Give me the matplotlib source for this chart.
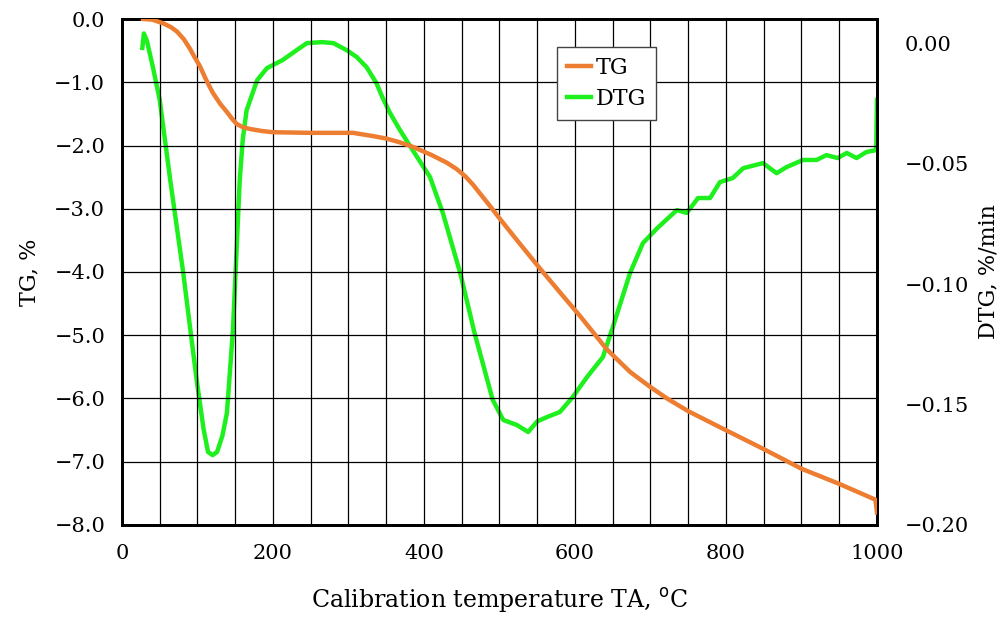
import matplotlib
matplotlib.use("Agg")
import matplotlib.pyplot as plt
from matplotlib.ticker import MultipleLocator, FuncFormatter

# --- Data ---
tg_temp = [28, 40, 55, 65, 73, 82, 90, 96, 103, 111, 120, 130, 139, 146, 152, 160,
           170, 185, 200, 250, 306, 332, 350, 368, 385, 410, 430, 443, 455, 465, 475,
           487, 500, 520, 554, 580, 607, 642, 673, 700, 722, 750, 788, 850, 900, 950,
           998, 1000]
tg_vals = [0.0, -0.01, -0.07, -0.13, -0.2, -0.32, -0.47, -0.6, -0.74, -0.95, -1.16,
           -1.34, -1.47, -1.58, -1.66, -1.71, -1.74, -1.77, -1.79, -1.80, -1.80, -1.85,
           -1.89, -1.95, -2.02, -2.15, -2.27, -2.37, -2.49, -2.62, -2.77, -2.95, -3.15,
           -3.45, -3.95, -4.32, -4.70, -5.22, -5.58, -5.82, -6.0, -6.2, -6.43, -6.8,
           -7.11, -7.35, -7.6, -7.8]

dtg_temp = [27, 29, 33, 41, 50, 64, 81, 99, 108, 114, 120, 126, 133, 139, 147, 152,
            156, 160, 165, 179, 192, 213, 231, 245, 265, 280, 298, 311, 324, 337, 345,
            355, 368, 385, 408, 425, 448, 467, 491, 505, 523, 538, 550, 563, 580, 597,
            616, 637, 650, 673, 690, 709, 735, 748, 763, 779, 792, 809, 823, 849, 867,
            880, 902, 920, 933, 948, 960, 973, 986, 999, 1000]
dtg_vals = [-0.002, 0.004, 0.001, -0.010, -0.0236, -0.057, -0.095, -0.140, -0.160,
            -0.1697, -0.171, -0.1697, -0.163, -0.1535, -0.119, -0.0846, -0.0568, -0.040,
            -0.028, -0.0154, -0.0104, -0.007, -0.003, 0.0, 0.0004, 0.0, -0.003, -0.0058,
            -0.010, -0.0166, -0.0225, -0.029, -0.036, -0.0444, -0.0556, -0.0705,
            -0.0954, -0.1203, -0.148, -0.1564, -0.1585, -0.1614, -0.157, -0.1552,
            -0.1531, -0.1469, -0.1386, -0.1303, -0.118, -0.0954, -0.083, -0.0768,
            -0.0693, -0.0705, -0.0643, -0.0643, -0.0577, -0.056, -0.0519, -0.0498,
            -0.054, -0.0515, -0.0485, -0.0485, -0.0465, -0.0477, -0.0456, -0.0477,
            -0.0452, -0.0444, -0.0236]

plt.rcParams["font.family"] = ["DejaVu Serif"]
plt.rcParams["font.size"] = 15

fig = plt.figure(figsize=(10.08, 6.21), dpi=100)
ax = fig.add_axes([0.121, 0.1546, 0.749, 0.8148])
ax2 = ax.twinx()

l1, = ax.plot(tg_temp, tg_vals, color="#ED7D31", lw=3.2, label="TG", zorder=3)
l2, = ax2.plot(dtg_temp, dtg_vals, color="#1EF01E", lw=3.2, label="DTG", zorder=3)

ax.set_xlim(0, 1000)
ax.set_ylim(-8, 0)
ax2.set_ylim(-0.2, 0.01)


def fmt(decimals):
    return FuncFormatter(lambda v, p: f"{v:.{decimals}f}".replace("-", "\u2212"))


ax.xaxis.set_major_locator(MultipleLocator(200))
ax.xaxis.set_minor_locator(MultipleLocator(50))
ax.yaxis.set_major_locator(MultipleLocator(1))
ax.yaxis.set_major_formatter(fmt(1))
ax2.yaxis.set_major_locator(MultipleLocator(0.05))
ax2.yaxis.set_major_formatter(fmt(2))

ax.grid(True, which="both", axis="x", color="black", lw=0.9)
ax.grid(True, which="major", axis="y", color="black", lw=0.9)
ax.set_axisbelow(True)

ax.tick_params(axis="both", which="both", length=0)
ax.tick_params(axis="y", pad=12)
ax.tick_params(axis="x", pad=14)
ax2.tick_params(axis="y", length=0, pad=20)

for a in (ax, ax2):
    for s in a.spines.values():
        s.set_linewidth(2)
        s.set_color("black")

ax.set_xlabel("Calibration temperature TA, $^{\\mathrm{o}}$C", fontsize=17, labelpad=16)
ax.set_ylabel("TG, %", fontsize=16, labelpad=10)
ax2.set_ylabel("DTG, %/min", fontsize=16, labelpad=6)

leg = ax.legend(handles=[l1, l2], loc="upper left", bbox_to_anchor=(0.576, 0.945),
                borderaxespad=0, fontsize=16, handlelength=1.1, handletextpad=0.2,
                fancybox=False, framealpha=1, edgecolor="#444444", borderpad=0.45,
                labelspacing=0.4)
leg.get_frame().set_linewidth(1)
leg.set_zorder(10)
ax.set_zorder(ax2.get_zorder() + 1)
ax.patch.set_visible(False)

fig.savefig("out.png", dpi=100)
